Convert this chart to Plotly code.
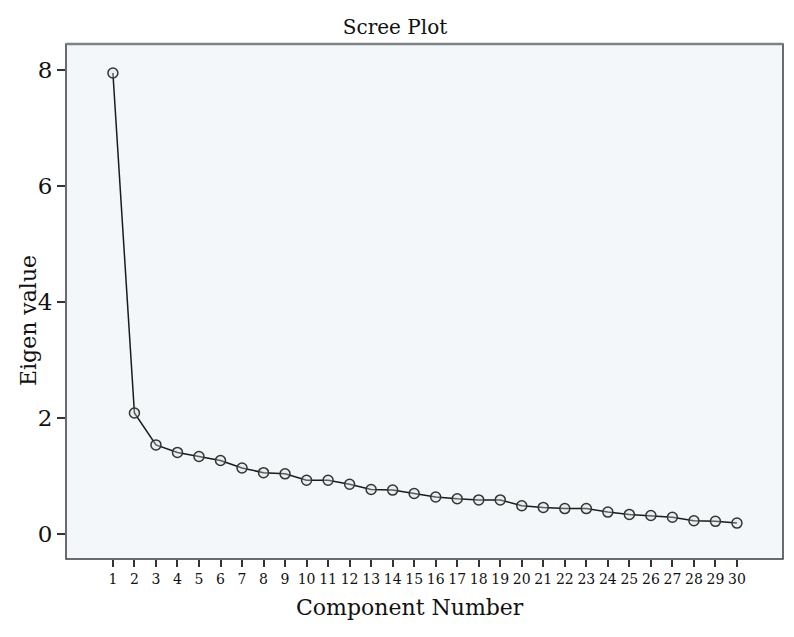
import plotly.graph_objects as go

components = list(range(1, 31))
eigenvalues = [7.95, 2.08, 1.53, 1.40, 1.33, 1.26, 1.13, 1.05, 1.03, 0.92,
               0.92, 0.85, 0.76, 0.75, 0.69, 0.63, 0.60, 0.58, 0.58, 0.48,
               0.45, 0.43, 0.43, 0.37, 0.33, 0.31, 0.28, 0.22, 0.21, 0.18]
y_ticks = [0, 2, 4, 6, 8]

FONT = "DejaVu Serif"

fig = go.Figure()
fig.add_trace(go.Scatter(
    x=components, y=eigenvalues, mode="lines+markers",
    line=dict(color="#1a1a1a", width=1.5),
    marker=dict(symbol="circle", size=10, color="rgba(215,220,222,0.35)",
                line=dict(color="#333333", width=1.5)),
    showlegend=False, cliponaxis=False,
))

fig.update_layout(
    width=794, height=637,
    margin=dict(l=66, r=11, t=44, b=78),
    paper_bgcolor="white", plot_bgcolor="#f3f7f9",
    font=dict(family=FONT, color="#111"),
    title=dict(text="Scree Plot", x=0.4975, xanchor="center", y=0.957, yanchor="middle",
               font=dict(size=20, family=FONT, color="#111")),
    xaxis=dict(range=[-1.18, 32.14], tickmode="array", tickvals=components,
               ticktext=[str(c) for c in components],
               ticks="outside", ticklen=7, tickcolor="#333", tickwidth=1.5,
               showgrid=False, zeroline=False, showline=False,
               tickfont=dict(size=14, family=FONT)),
    yaxis=dict(range=[-0.44, 8.45], tickmode="array", tickvals=y_ticks,
               ticks="outside", ticklen=8, tickcolor="#333", tickwidth=1.5,
               showgrid=False, zeroline=False, showline=False,
               tickfont=dict(size=23, family=FONT)),
    annotations=[
        dict(text="Component Number", xref="paper", yref="paper",
             x=0.4798, y=-0.094, xanchor="center", yanchor="middle", showarrow=False,
             font=dict(size=22, family=FONT, color="#111")),
        dict(text="Eigen value", xref="paper", yref="paper", textangle=-90,
             x=-0.053, y=0.464, xanchor="center", yanchor="middle", showarrow=False,
             font=dict(size=22, family=FONT, color="#111")),
    ],
)

# frame around plot area
fig.add_shape(type="rect", xref="paper", yref="paper", x0=0, x1=1, y0=0, y1=1,
              line=dict(color="#3d3d3d", width=1.5), layer="above")
fig.add_shape(type="line", xref="paper", yref="paper", x0=0, x1=1, y0=1, y1=1,
              line=dict(color="#7d8385", width=2.5), layer="above")

fig.write_html("out.html", config={"displayModeBar": False},
               post_script="document.body.style.margin='0';document.body.style.padding='0';")
